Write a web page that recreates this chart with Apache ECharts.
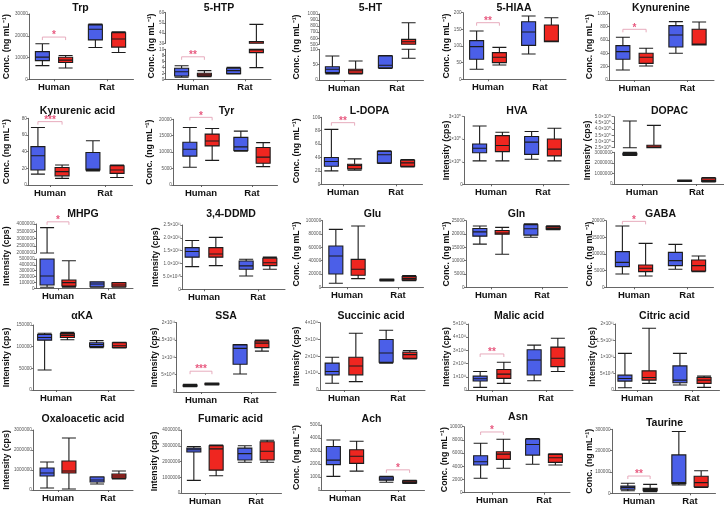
<!DOCTYPE html>
<html><head><meta charset="utf-8">
<script src="https://cdn.jsdelivr.net/npm/echarts@6/dist/echarts.min.js"></script>
<style>html,body{margin:0;padding:0;background:#fff}#c{width:724px;height:508px}</style>
</head><body><div id="c"></div>
<script>
const categories = ['Human', 'Rat'];
const titles = ['Trp','5-HTP','5-HT','5-HIAA','Kynurenine','Kynurenic acid','Tyr','L-DOPA','HVA','DOPAC','MHPG','3,4-DDMD','Glu','Gln','GABA','αKA','SSA','Succinic acid','Malic acid','Citric acid','Oxaloacetic acid','Fumaric acid','Ach','Asn','Taurine'];
const CONC = 'Conc. (ng mL⁻¹)', INT = 'Intensity (cps)';
const yNames = [CONC,CONC,CONC,CONC,CONC, CONC,CONC,CONC,INT,INT, INT,INT,CONC,CONC,CONC, INT,INT,INT,INT,INT, INT,INT,CONC,CONC,CONC];

// box stats [min, Q1, median, Q3, max]; order: Human blue, Human red, Rat blue, Rat red
const trp = [[6300,8600,10200,12700,16300],[5200,7700,8800,10100,10900],[14600,18100,23000,25000,25400],[12300,14800,18500,21400,21800]];
const htp = [[0.7,1.1,2.5,3.7,4.5],[0.9,1.1,1.5,2.0,2.9],[1.8,1.9,2.9,3.7,4.0],[3.9,8.9,9.8,31.6,48.6]];
const ht = [[20,24,35,43,78],[20,22,30,35,62],[38,40,48,78,80],[71,400,543,582,856]];
const hiaa = [[30,60,98,116,145],[43,50,66,80,96],[76,102,142,173,190],[113,113,115,163,185]];
const kyn = [[150,310,425,515,640],[210,250,340,400,475],[400,495,675,815,875],[525,525,540,760,870]];
const kyna = [[13,18,35,46,69],[8,11,16,21,24],[17,18,19,39,53],[9,14,18,23,24]];
const tyr = [[5400,8800,10900,13000,17500],[7500,11900,13400,15500,17200],[10300,10500,11600,14500,16400],[5600,6600,8500,11400,12900]];
const ldopa = [[20,27,34,40,82],[21,23,28,30,38],[31,32,44,49,50],[26,27,32,36,37]];
const hva = [[1.04e7,1.4e7,1.6e7,1.79e7,2.59e7],[1.04e7,1.45e7,1.72e7,2.16e7,2.31e7],[1.11e7,1.33e7,1.87e7,2.12e7,2.34e7],[1.04e7,1.26e7,1.56e7,2.01e7,2.49e7]];
const dopac = [[2.7e6,2.75e6,2.8e6,2.9e6,4.65e7],[2.5e7,2.5e7,2.55e7,2.7e7,4.3e7],[2.3e5,2.6e5,3.0e5,3.5e5,3.8e5],[2.0e5,2.5e5,3.5e5,5.5e5,6.0e5]];
const mhpg = [[17000,56000,210000,1000000,3750000],[20000,39000,96000,142000,470000],[20000,27000,73000,110000,113000],[20000,27000,56000,95000,100000]];
const ddmd = [[0.88e11,1.25e11,1.47e11,1.62e11,1.9e11],[0.92e11,1.25e11,1.37e11,1.62e11,2.02e11],[0.52e11,0.78e11,0.91e11,1.1e11,1.17e11],[0.78e11,0.92e11,1.03e11,1.21e11,1.25e11]];
const glu = [[6000,20000,47000,62000,87000],[13000,18000,27000,42000,92000],[9500,10000,11000,12000,12500],[10000,11000,13000,16000,17500]];
const gln = [[16200,19200,20800,22100,23000],[12400,19900,20400,21300,22500],[18800,19600,22000,23500,23800],[21600,21800,22200,22800,23100]];
const gaba = [[4000,6200,7500,10700,18400],[3400,4700,5700,6700,13200],[5400,6500,8000,10500,12900],[4700,4900,6500,8200,9400]];
const aka = [[46000,115000,121000,128000,131000],[116000,121000,126000,130000,133000],[97600,100000,105000,109000,114000],[97000,98000,102000,109000,110000]];
const ssa = [[1.5e10,1.7e10,1.8e10,2.0e10,2.2e10],[2.0e10,2.1e10,2.3e10,2.5e10,2.6e10],[0.52e11,0.8e11,1.26e11,1.36e11,1.37e11],[1.18e11,1.28e11,1.41e11,1.47e11,1.5e11]];
const succ = [[0.4e11,0.9e11,1.1e11,1.6e11,1.95e11],[0.5e11,0.9e11,1.43e11,1.95e11,3.37e11],[1.6e11,1.65e11,2.2e11,3.0e11,3.55e11],[1.85e11,1.89e11,2.1e11,2.25e11,2.35e11]];
const malic = [[0.2e11,0.68e11,0.85e11,1.05e11,1.4e11],[0.5e11,0.88e11,1.2e11,1.55e11,2.1e11],[0.7e11,1.14e11,2.27e11,3.05e11,3.4e11],[1.4e11,1.77e11,2.4e11,3.25e11,3.92e11]];
const citric = [[0.07e11,0.27e11,0.35e11,0.45e11,1.11e11],[0.2e11,0.3e11,0.38e11,0.58e11,1.87e11],[0.15e11,0.22e11,0.3e11,0.73e11,1.11e11],[0.08e11,0.2e11,0.3e11,0.38e11,0.42e11]];
const oxa = [[0.1e6,0.7e6,0.85e6,1.1e6,1.4e6],[0.05e6,0.85e6,0.95e6,1.45e6,2.6e6],[0.3e6,0.4e6,0.5e6,0.65e6,0.66e6],[0.55e6,0.6e6,0.7e6,0.8e6,0.95e6]];
const fum = [[0.8e6,2.6e6,2.75e6,2.85e6,2.95e6],[1.1e6,1.45e6,2.8e6,3.0e6,3.05e6],[1.95e6,2.1e6,2.5e6,2.85e6,3.0e6],[1.95e6,2.1e6,2.65e6,3.25e6,3.35e6]];
const ach = [[1050,1950,2300,3350,3850],[1450,2050,2600,3100,3750],[600,750,850,1000,1050],[500,550,600,700,750]];
const asn = [[2200,4200,4700,5600,7500],[3700,5050,5850,6200,8100],[4300,5700,7300,8100,8200],[4200,4600,5300,5800,5900]];
const tau = [[12000,19000,28000,34000,47000],[8000,12500,18000,23000,42000],[39000,45000,50000,180000,290000],[28000,31000,50000,80000,106000]];

// y axis ticks [min, max, interval, label format]; broken axes list lower segment first
const trpAxis = [0,30000,10000,'p'];
const htpAxis = [[0,10,2,'p'],[30,60,10,'p']];
const htAxis = [[0,100,50,'p'],[500,1000,100,'p']];
const hiaaAxis = [0,200,50,'p'];
const kynAxis = [0,1000,200,'p'];
const kynaAxis = [0,80,20,'p'];
const tyrAxis = [0,20000,5000,'p'];
const ldopaAxis = [0,100,20,'p'];
const hvaAxis = [0,3e7,1e7,'e'];
const dopacAxis = [[0,3e6,1e6,'p'],[2.5e7,5e7,0.5e7,'e1']];
const mhpgAxis = [[0,5e5,1e5,'p'],[2e6,4e6,5e5,'p']];
const ddmdAxis = [0,2.5e11,0.5e11,'e1'];
const gluAxis = [0,100000,20000,'p'];
const glnAxis = [0,25000,5000,'p'];
const gabaAxis = [0,20000,5000,'p'];
const akaAxis = [0,150000,50000,'p'];
const ssaAxis = [0,2e11,5e10,'e'];
const succAxis = [0,4e11,1e11,'e'];
const malicAxis = [0,5e11,1e11,'e'];
const citricAxis = [0,2e11,5e10,'e'];
const oxaAxis = [0,3e6,1e6,'p'];
const fumAxis = [0,4e6,1e6,'p'];
const achAxis = [0,5000,1000,'p'];
const asnAxis = [0,10000,2000,'p'];
const tauAxis = [0,300000,100000,'p'];

// significance: [panel, group, bracket value, stars, axis segment]
const sigs = [
  [0,0,19400,'*',0],[1,0,7.5,'**',0],[3,0,170,'**',0],[4,0,760,'*',0],
  [5,0,76,'***',0],[6,0,20600,'*',0],[7,0,92,'**',0],[10,0,4.15e6,'*',1],
  [14,0,19800,'*',0],[16,0,0.6e11,'***',0],[18,0,2.73e11,'**',0],
  [22,1,1550,'*',0],[23,0,9200,'*',0],[24,0,81000,'**',0]
];

const boxes = [trp,htp,ht,hiaa,kyn,kyna,tyr,ldopa,hva,dopac,mhpg,ddmd,glu,gln,gaba,aka,ssa,succ,malic,citric,oxa,fum,ach,asn,tau];
const axes = [trpAxis,htpAxis,htAxis,hiaaAxis,kynAxis,kynaAxis,tyrAxis,ldopaAxis,hvaAxis,dopacAxis,mhpgAxis,ddmdAxis,gluAxis,glnAxis,gabaAxis,akaAxis,ssaAxis,succAxis,malicAxis,citricAxis,oxaAxis,fumAxis,achAxis,asnAxis,tauAxis];

// layout in pixels: axis x, human centre, rat centre, segment [top,bottom] (lower first), y-name x, title y
const layout = [
  {ax:29.3,hc:54,rc:107,seg:[[14,79.3]],nx:7,ty:8},
  {ax:165.7,hc:193,rc:245,seg:[[49.3,79.3],[12.7,43.3]],nx:152,ty:8},
  {ax:319.3,hc:344,rc:397,seg:[[49.3,80],[14,44.3]],nx:297,ty:8},
  {ax:463,hc:488,rc:540,seg:[[12.7,79.3]],nx:447,ty:8},
  {ax:609.3,hc:634.5,rc:687.5,seg:[[13.3,80]],nx:590,ty:8},
  {ax:28.3,hc:50,rc:105,seg:[[118.3,185]],nx:7,ty:110.7},
  {ax:173.3,hc:201,rc:252,seg:[[119.3,185]],nx:150,ty:110.7},
  {ax:321.7,hc:343,rc:396,seg:[[117.3,184.3]],nx:297,ty:110.7},
  {ax:464.3,hc:491,rc:543,seg:[[116.7,184.3]],nx:447,ty:110.7},
  {ax:614,hc:642,rc:697,seg:[[152.3,184],[116.7,147.7]],nx:588,ty:110.7},
  {ax:36,hc:58,rc:108,seg:[[259,288.3],[224,253]],nx:7,ty:214},
  {ax:182.3,hc:204,rc:258,seg:[[225,289.3]],nx:156,ty:214},
  {ax:322.7,hc:347,rc:398,seg:[[220.7,287.3]],nx:297,ty:214},
  {ax:466,hc:491,rc:542,seg:[[220.7,287.3]],nx:447,ty:214},
  {ax:606,hc:634,rc:687,seg:[[220.7,287.3]],nx:590,ty:214},
  {ax:33.3,hc:56,rc:108,seg:[[325,390]],nx:7,ty:316},
  {ax:176.7,hc:201,rc:251,seg:[[322.7,392]],nx:155,ty:316},
  {ax:320,hc:344,rc:398,seg:[[322.7,390]],nx:297,ty:316},
  {ax:468,hc:492,rc:546,seg:[[324,390]],nx:447,ty:316},
  {ax:615.3,hc:637,rc:692,seg:[[324,390]],nx:593,ty:316},
  {ax:33.3,hc:58,rc:108,seg:[[430,490]],nx:7,ty:419},
  {ax:181.7,hc:205,rc:256,seg:[[430,493]],nx:155,ty:419},
  {ax:321.7,hc:345,rc:398,seg:[[425,490]],nx:297,ty:419},
  {ax:464,hc:492,rc:544,seg:[[426.7,492.7]],nx:445,ty:417},
  {ax:612,hc:639,rc:690,seg:[[429.3,493.3]],nx:590,ty:423}
];

const FONT = '"Liberation Sans", Arial, sans-serif';
const BLUE = '#4b5fe8', RED = '#ef2620', EDGE = '#1c1c1c', AXC = '#555';

const SUP = {'0':'⁰','1':'¹','2':'²','3':'³','4':'⁴','5':'⁵','6':'⁶','7':'⁷','8':'⁸','9':'⁹'};
function fmt(v, f) {
  if (v === 0) return '0';
  if (f === 'p') return String(Math.round(v));
  const e = Math.floor(Math.log10(v) + 1e-9);
  const m = v / Math.pow(10, e);
  const ms = f === 'e1' ? m.toFixed(1) : String(+m.toFixed(2));
  return ms + '×10' + String(e).padStart(2, '0').split('').map(c => SUP[c]).join('');
}
function clampBox(b, lo, hi) {
  const c = b.map(v => Math.min(Math.max(v, lo), hi));
  if (b[4] < lo || b[0] > hi) return {value: c, itemStyle: {opacity: 0}};
  return c;
}

const grid = [], xAxis = [], yAxis = [], series = [], graphic = [];
const segIndex = {};

boxes.forEach((bx, i) => {
  const L = layout[i];
  const B = L.rc - L.hc;
  const gl = L.hc - B / 2, gw = 2 * B;
  const segs = Array.isArray(axes[i][0]) ? axes[i] : [axes[i]];
  let g = grid.length;
  grid.push({left: L.ax, top: L.seg[0][0], width: gl + gw - L.ax, height: L.seg[0][1] - L.seg[0][0]});
  xAxis.push({gridIndex: g, type: 'value', min: 0, max: 1, axisLine: {show: true, lineStyle: {color: AXC, width: 0.9}}, axisTick: {show: false}, axisLabel: {show: false}, splitLine: {show: false}});
  yAxis.push({gridIndex: g, type: 'value', min: 0, max: 1, show: false});
  segs.forEach((s, k) => {
    const px = L.seg[k];
    g = grid.length;
    segIndex[i + '_' + k] = g;
    grid.push({left: gl, top: px[0], width: gw, height: px[1] - px[0]});
    xAxis.push({gridIndex: g, type: 'category', data: categories, show: k === 0,
      axisLine: {show: false},
      axisTick: {show: true, alignWithLabel: true, length: 2, lineStyle: {color: AXC, width: 0.9}},
      axisLabel: {show: k === 0, fontSize: 9.5, fontWeight: 'bold', color: '#111', fontFamily: FONT, margin: 3}});
    yAxis.push({gridIndex: g, type: 'value', min: s[0], max: s[1], interval: s[2], offset: gl - L.ax,
      axisLine: {show: true, lineStyle: {color: AXC, width: 0.9}},
      axisTick: {show: true, length: 2, lineStyle: {color: AXC, width: 0.8}},
      axisLabel: {fontSize: 4.6, color: '#555', fontFamily: FONT, margin: 1.5, formatter: v => fmt(v, s[3])},
      splitLine: {show: false}});
    [[0, 2, BLUE], [1, 3, RED]].forEach(([a, b, col]) => {
      series.push({type: 'boxplot', xAxisIndex: g, yAxisIndex: g, boxWidth: [14, 14],
        data: [clampBox(bx[a], s[0], s[1]), clampBox(bx[b], s[0], s[1])],
        itemStyle: {color: col, borderColor: EDGE, borderWidth: 1.1},
        emphasis: {disabled: true}, silent: true, animation: false});
    });
  });
  graphic.push({type: 'text', x: (L.hc + L.rc) / 2, y: L.ty, silent: true,
    style: {text: titles[i], fontSize: 10.5, fontWeight: 'bold', fontFamily: FONT, fill: '#111', align: 'center', verticalAlign: 'middle', textAlign: 'center', textVerticalAlign: 'middle'}});
  const topPx = L.seg[L.seg.length - 1][0], botPx = L.seg[0][1];
  graphic.push({type: 'text', x: L.nx, y: (topPx + botPx) / 2, rotation: Math.PI / 2, silent: true,
    style: {text: yNames[i], fontSize: 8.8, fontWeight: 'bold', fontFamily: FONT, fill: '#111', align: 'center', verticalAlign: 'middle', textAlign: 'center', textVerticalAlign: 'middle'}});
});

sigs.forEach(([p, grp, val, stars, k]) => {
  const L = layout[p];
  const B = L.rc - L.hc;
  const d = 0.2875 * (0.8 * B - 2);
  const g = segIndex[p + '_' + k];
  series.push({type: 'custom', xAxisIndex: g, yAxisIndex: g, silent: true, animation: false, clip: false,
    data: [[grp, val]],
    renderItem: (params, api) => {
      const c = api.coord([api.value(0), api.value(1)]);
      return {type: 'group', children: [
        {type: 'polyline', shape: {points: [[c[0] - d, c[1] + 3], [c[0] - d, c[1]], [c[0] + d, c[1]], [c[0] + d, c[1] + 3]]},
          style: {stroke: '#e4a3b6', lineWidth: 0.9, fill: null}},
        {type: 'text', x: c[0], y: c[1] - 1.5,
          style: {text: stars, fill: '#e8597f', fontSize: 10, fontWeight: 'bold', fontFamily: FONT, align: 'center', verticalAlign: 'middle', textAlign: 'center', textVerticalAlign: 'middle'}}
      ]};
    }});
});

const chart = echarts.init(document.getElementById('c'), null, {renderer: 'canvas'});
chart.setOption({animation: false, backgroundColor: '#fff', grid, xAxis, yAxis, series, graphic});
</script></body></html>
